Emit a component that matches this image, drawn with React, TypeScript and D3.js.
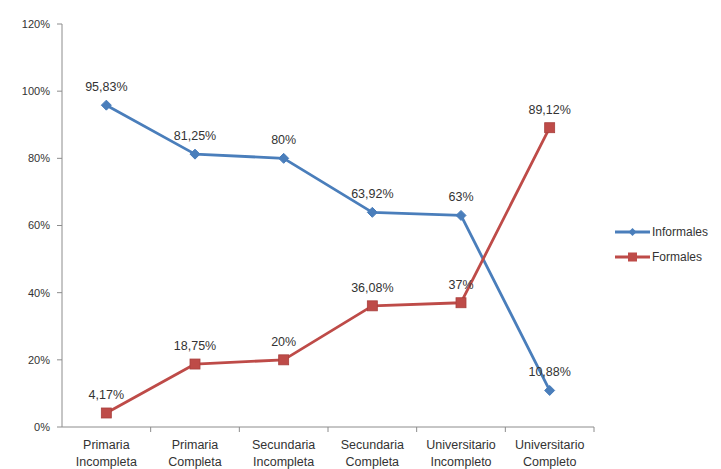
import React from "react";
import * as d3 from "d3";

const categories = [
  ["Primaria", "Incompleta"],
  ["Primaria", "Completa"],
  ["Secundaria", "Incompleta"],
  ["Secundaria", "Completa"],
  ["Universitario", "Incompleto"],
  ["Universitario", "Completo"],
];
const informales = [95.83, 81.25, 80, 63.92, 63, 10.88];
const formales = [4.17, 18.75, 20, 36.08, 37, 89.12];
const informalesLabels = ["95,83%", "81,25%", "80%", "63,92%", "63%", "10,88%"];
const formalesLabels = ["4,17%", "18,75%", "20%", "36,08%", "37%", "89,12%"];
const yTicks = [0, 20, 40, 60, 80, 100, 120];
const seriesNames = ["Informales", "Formales"];

const W = 721, H = 469;
const left = 62, right = 594, top = 24, bottom = 427;
const font = "'Liberation Sans', Arial, sans-serif";
const blue = "#4A7EBB";
const red = "#BE4B48";
const axisColor = "#8C8C8C";

export default function App() {
  const keys = categories.map((_, i) => String(i));
  const x = d3.scaleBand().domain(keys).range([left, right]);
  const y = d3.scaleLinear().domain([0, 120]).range([bottom, top]);
  const cx = (i: number) => (x(String(i)) as number) + x.bandwidth() / 2;
  const line = d3.line<number>().x((_, i) => cx(i)).y((d) => y(d));

  return (
    <svg width={W} height={H} style={{ position: "absolute", left: 0, top: 0, background: "#fff" }}>
      <rect width={W} height={H} fill="#fff" />
      {/* y axis */}
      <line x1={left} x2={left} y1={top} y2={bottom} stroke={axisColor} strokeWidth={1} />
      {yTicks.map((t) => (
        <g key={t}>
          <line x1={left - 5} x2={left} y1={y(t)} y2={y(t)} stroke={axisColor} />
          <text x={left - 12} y={y(t)} dy="0.35em" textAnchor="end" fontFamily={font} fontSize={11} fill="#333">
            {t}%
          </text>
        </g>
      ))}
      {/* x axis */}
      <line x1={left} x2={right} y1={bottom} y2={bottom} stroke={axisColor} strokeWidth={1} />
      {keys.map((k, i) => (
        <line key={k} x1={(x(k) as number) + x.bandwidth()} x2={(x(k) as number) + x.bandwidth()} y1={bottom} y2={bottom + 5} stroke={axisColor} />
      ))}
      {categories.map((c, i) => (
        <text key={i} x={cx(i)} y={bottom + 22} textAnchor="middle" fontFamily={font} fontSize={12.5} fill="#333">
          <tspan x={cx(i)}>{c[0]}</tspan>
          <tspan x={cx(i)} dy={17}>{c[1]}</tspan>
        </text>
      ))}
      {/* lines */}
      <path d={line(informales) || ""} fill="none" stroke={blue} strokeWidth={2.8} strokeLinejoin="round" />
      <path d={line(formales) || ""} fill="none" stroke={red} strokeWidth={2.8} strokeLinejoin="round" />
      {informales.map((v, i) => (
        <path key={"i" + i} d={`M${cx(i)},${y(v) - 5}L${cx(i) + 5},${y(v)}L${cx(i)},${y(v) + 5}L${cx(i) - 5},${y(v)}Z`} fill={blue} stroke={blue} />
      ))}
      {formales.map((v, i) => (
        <rect key={"f" + i} x={cx(i) - 5} y={y(v) - 5} width={10} height={10} fill={red} stroke="#A83F3C" strokeWidth={0.8} />
      ))}
      {/* data labels */}
      {informales.map((v, i) => (
        <text key={"il" + i} x={cx(i)} y={y(v) - 14} textAnchor="middle" fontFamily={font} fontSize={12.5} fill="#333">
          {informalesLabels[i]}
        </text>
      ))}
      {formales.map((v, i) => (
        <text key={"fl" + i} x={cx(i)} y={y(v) - 14} textAnchor="middle" fontFamily={font} fontSize={12.5} fill="#333">
          {formalesLabels[i]}
        </text>
      ))}
      {/* legend */}
      {seriesNames.map((n, i) => {
        const ly = 232 + i * 25;
        const col = i === 0 ? blue : red;
        return (
          <g key={n}>
            <line x1={615} x2={650} y1={ly} y2={ly} stroke={col} strokeWidth={2.8} />
            {i === 0 ? (
              <path d={`M632.5,${ly - 4}L636.5,${ly}L632.5,${ly + 4}L628.5,${ly}Z`} fill={col} />
            ) : (
              <rect x={628} y={ly - 4.5} width={9} height={9} fill={col} />
            )}
            <text x={652} y={ly} dy="0.35em" fontFamily={font} fontSize={12} fill="#333">
              {n}
            </text>
          </g>
        );
      })}
    </svg>
  );
}
